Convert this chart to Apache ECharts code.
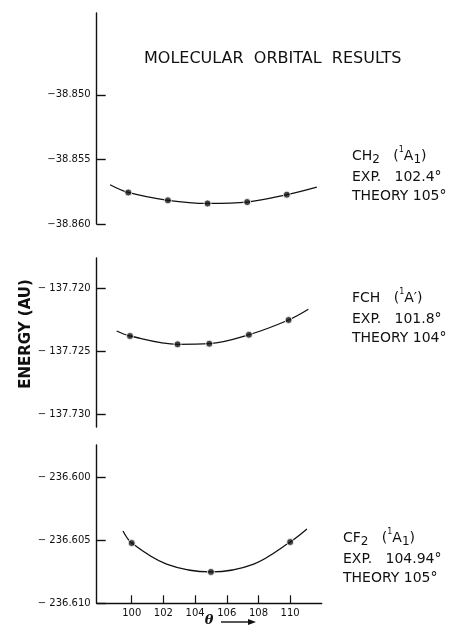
<!DOCTYPE html>
<html>
<head>
<meta charset="utf-8">
<script src="https://cdn.jsdelivr.net/npm/echarts@6/dist/echarts.min.js"></script>
<style>
  html, body { margin: 0; padding: 0; background: #fff; }
  #chart { width: 453px; height: 634px; }
</style>
</head>
<body>
<div id="chart"></div>
<script>
// 数据 (θ 单位: 度, 能量单位: AU)
var thetaCH2 = [100, 102.5, 105, 107.5, 110];
var energyCH2 = [-38.85756, -38.85817, -38.85841, -38.85830, -38.85773];
var curveThetaCH2 = [98.85, 100, 102.5, 105, 107.5, 110, 111.89];
var curveEnergyCH2 = [-38.85696, -38.85756, -38.85817, -38.85841, -38.85830, -38.85773, -38.85714];

var thetaFCH = [100, 103, 105, 107.5, 110];
var energyFCH = [-137.72381, -137.72447, -137.72442, -137.72371, -137.72254];
var curveThetaFCH = [99.16, 100, 103, 105, 107.5, 110, 111.25];
var curveEnergyFCH = [-137.72341, -137.72381, -137.72447, -137.72442, -137.72371, -137.72254, -137.72169];

var thetaCF2 = [100, 105, 110];
var energyCF2 = [-236.60523, -236.60752, -236.60515];
var curveThetaCF2 = [99.45, 100, 102.2, 105, 107.7, 110, 111.06];
var curveEnergyCF2 = [-236.60428, -236.60523, -236.60690, -236.60752, -236.60690, -236.60515, -236.60412];

var thetaTicks = [100, 102, 104, 106, 108, 110];
var ticksCH2 = [-38.860, -38.855, -38.850];
var ticksFCH = [-137.730, -137.725, -137.720];
var ticksCF2 = [-236.610, -236.605, -236.600];

function pairs(xs, ys) {
   return xs.map(function (x, i) { return [x, ys[i]]; });
}

var FONT = 'DejaVu Sans';
var INK = '#111';

function yAxisOf(idx, min, max, ticks, sep) {
   return {
      type: 'value',
      gridIndex: idx,
      min: min,
      max: max,
      splitLine: { show: false },
      axisLine: { show: true, lineStyle: { color: INK, width: 1.4 } },
      axisTick: { show: true, inside: true, length: 9, customValues: ticks,
                  lineStyle: { color: INK, width: 1.4 } },
      axisLabel: {
         customValues: ticks,
         margin: 6,
         color: INK,
         fontFamily: FONT,
         fontSize: 10,
         formatter: function (v) { return '\u2212' + sep + Math.abs(v).toFixed(3); }
      }
   };
}

function xAxisOf(idx, min, max, visible) {
   return {
      type: 'value',
      gridIndex: idx,
      min: min,
      max: max,
      show: visible,
      splitLine: { show: false },
      axisLine: { show: true, onZero: false, lineStyle: { color: INK, width: 1.4 } },
      axisTick: { show: true, inside: true, length: 8, customValues: thetaTicks,
                  lineStyle: { color: INK, width: 1.2 } },
      axisLabel: { customValues: thetaTicks, margin: 5, color: INK,
                   fontFamily: FONT, fontSize: 10 }
   };
}

function curve(idx, xs, ys) {
   return {
      type: 'line', xAxisIndex: idx, yAxisIndex: idx,
      data: pairs(xs, ys), smooth: 0.35, showSymbol: false, z: 2,
      lineStyle: { color: INK, width: 1.3 }
   };
}

function dots(idx, xs, ys) {
   return {
      type: 'scatter', xAxisIndex: idx, yAxisIndex: idx,
      data: pairs(xs, ys), symbolSize: 7, z: 3,
      itemStyle: { color: INK, borderColor: '#fff', borderWidth: 1 }
   };
}

var chart = echarts.init(document.getElementById('chart'));

var labelStyle = { fontFamily: FONT, fontSize: 14, fill: INK };

function molLabel(x, y, name, sub, state, exp, theory) {
   return [
      { type: 'text', x: x, y: y, style: {
         text: name + '{s|' + sub + '}   ({p|1}A' + state + ')',
         fontFamily: FONT, fontSize: 14, fill: INK, verticalAlign: 'middle',
         rich: {
            s: { fontSize: 12, fontFamily: FONT, verticalAlign: 'bottom', padding: [8, 0, 0, 0] },
            p: { fontSize: 8, fontFamily: FONT, verticalAlign: 'top', padding: [0, 0, 6, 0] }
         } } },
      { type: 'text', x: x, y: y + 21, style: Object.assign({ text: 'EXP.   ' + exp + '\u00b0', verticalAlign: 'middle' }, labelStyle) },
      { type: 'text', x: x, y: y + 40, style: Object.assign({ text: 'THEORY ' + theory + '\u00b0', verticalAlign: 'middle' }, labelStyle) }
   ];
}

var option = {
   backgroundColor: '#fff',
   animation: false,
   title: {
      text: 'MOLECULAR  ORBITAL  RESULTS',
      left: 139, top: 46,
      textStyle: { fontFamily: FONT, fontSize: 16, fontWeight: 'normal', color: INK }
   },
   grid: [
      { left: 96.7, right: 131.3, top: 13, height: 211 },
      { left: 96.7, right: 131.3, top: 258, height: 169 },
      { left: 96.7, right: 131.3, top: 445, height: 158.3 }
   ],
   xAxis: [
      xAxisOf(0, 98.01, 112.2, false),
      xAxisOf(1, 97.90, 112.09, false),
      xAxisOf(2, 97.79, 111.99, true)
   ],
   yAxis: [
      yAxisOf(0, -38.860, -38.84366, ticksCH2, ''),
      yAxisOf(1, -137.73103, -137.71762, ticksFCH, ' '),
      yAxisOf(2, -236.610, -236.59747, ticksCF2, ' ')
   ],
   series: [
      curve(0, curveThetaCH2, curveEnergyCH2), dots(0, thetaCH2, energyCH2),
      curve(1, curveThetaFCH, curveEnergyFCH), dots(1, thetaFCH, energyFCH),
      curve(2, curveThetaCF2, curveEnergyCF2), dots(2, thetaCF2, energyCF2)
   ],
   graphic: [
      { type: 'text', x: 26, y: 334, rotation: Math.PI / 2,
        style: { text: 'ENERGY (AU)', fontFamily: FONT, fontSize: 15, fontWeight: 'bold',
                 fill: INK, align: 'center', verticalAlign: 'middle' } },
      { type: 'text', x: 209, y: 621,
        style: { text: '\u03b8', fontFamily: 'DejaVu Serif', fontSize: 13, fontStyle: 'italic',
                 fontWeight: 'bold', fill: INK, align: 'center', verticalAlign: 'middle' } },
      { type: 'line', shape: { x1: 221, y1: 622, x2: 250, y2: 622 },
        style: { stroke: INK, lineWidth: 1.4 } },
      { type: 'polygon', shape: { points: [[256, 622], [248, 619], [248, 625]] },
        style: { fill: INK } }
   ]
      .concat(molLabel(352, 156, 'CH', '2', '{s|1}', '102.4', '105'))
      .concat(molLabel(352, 298, 'FCH', '', '\u2032', '101.8', '104'))
      .concat(molLabel(343, 538, 'CF', '2', '{s|1}', '104.94', '105'))
};

chart.setOption(option);
</script>
</body>
</html>
